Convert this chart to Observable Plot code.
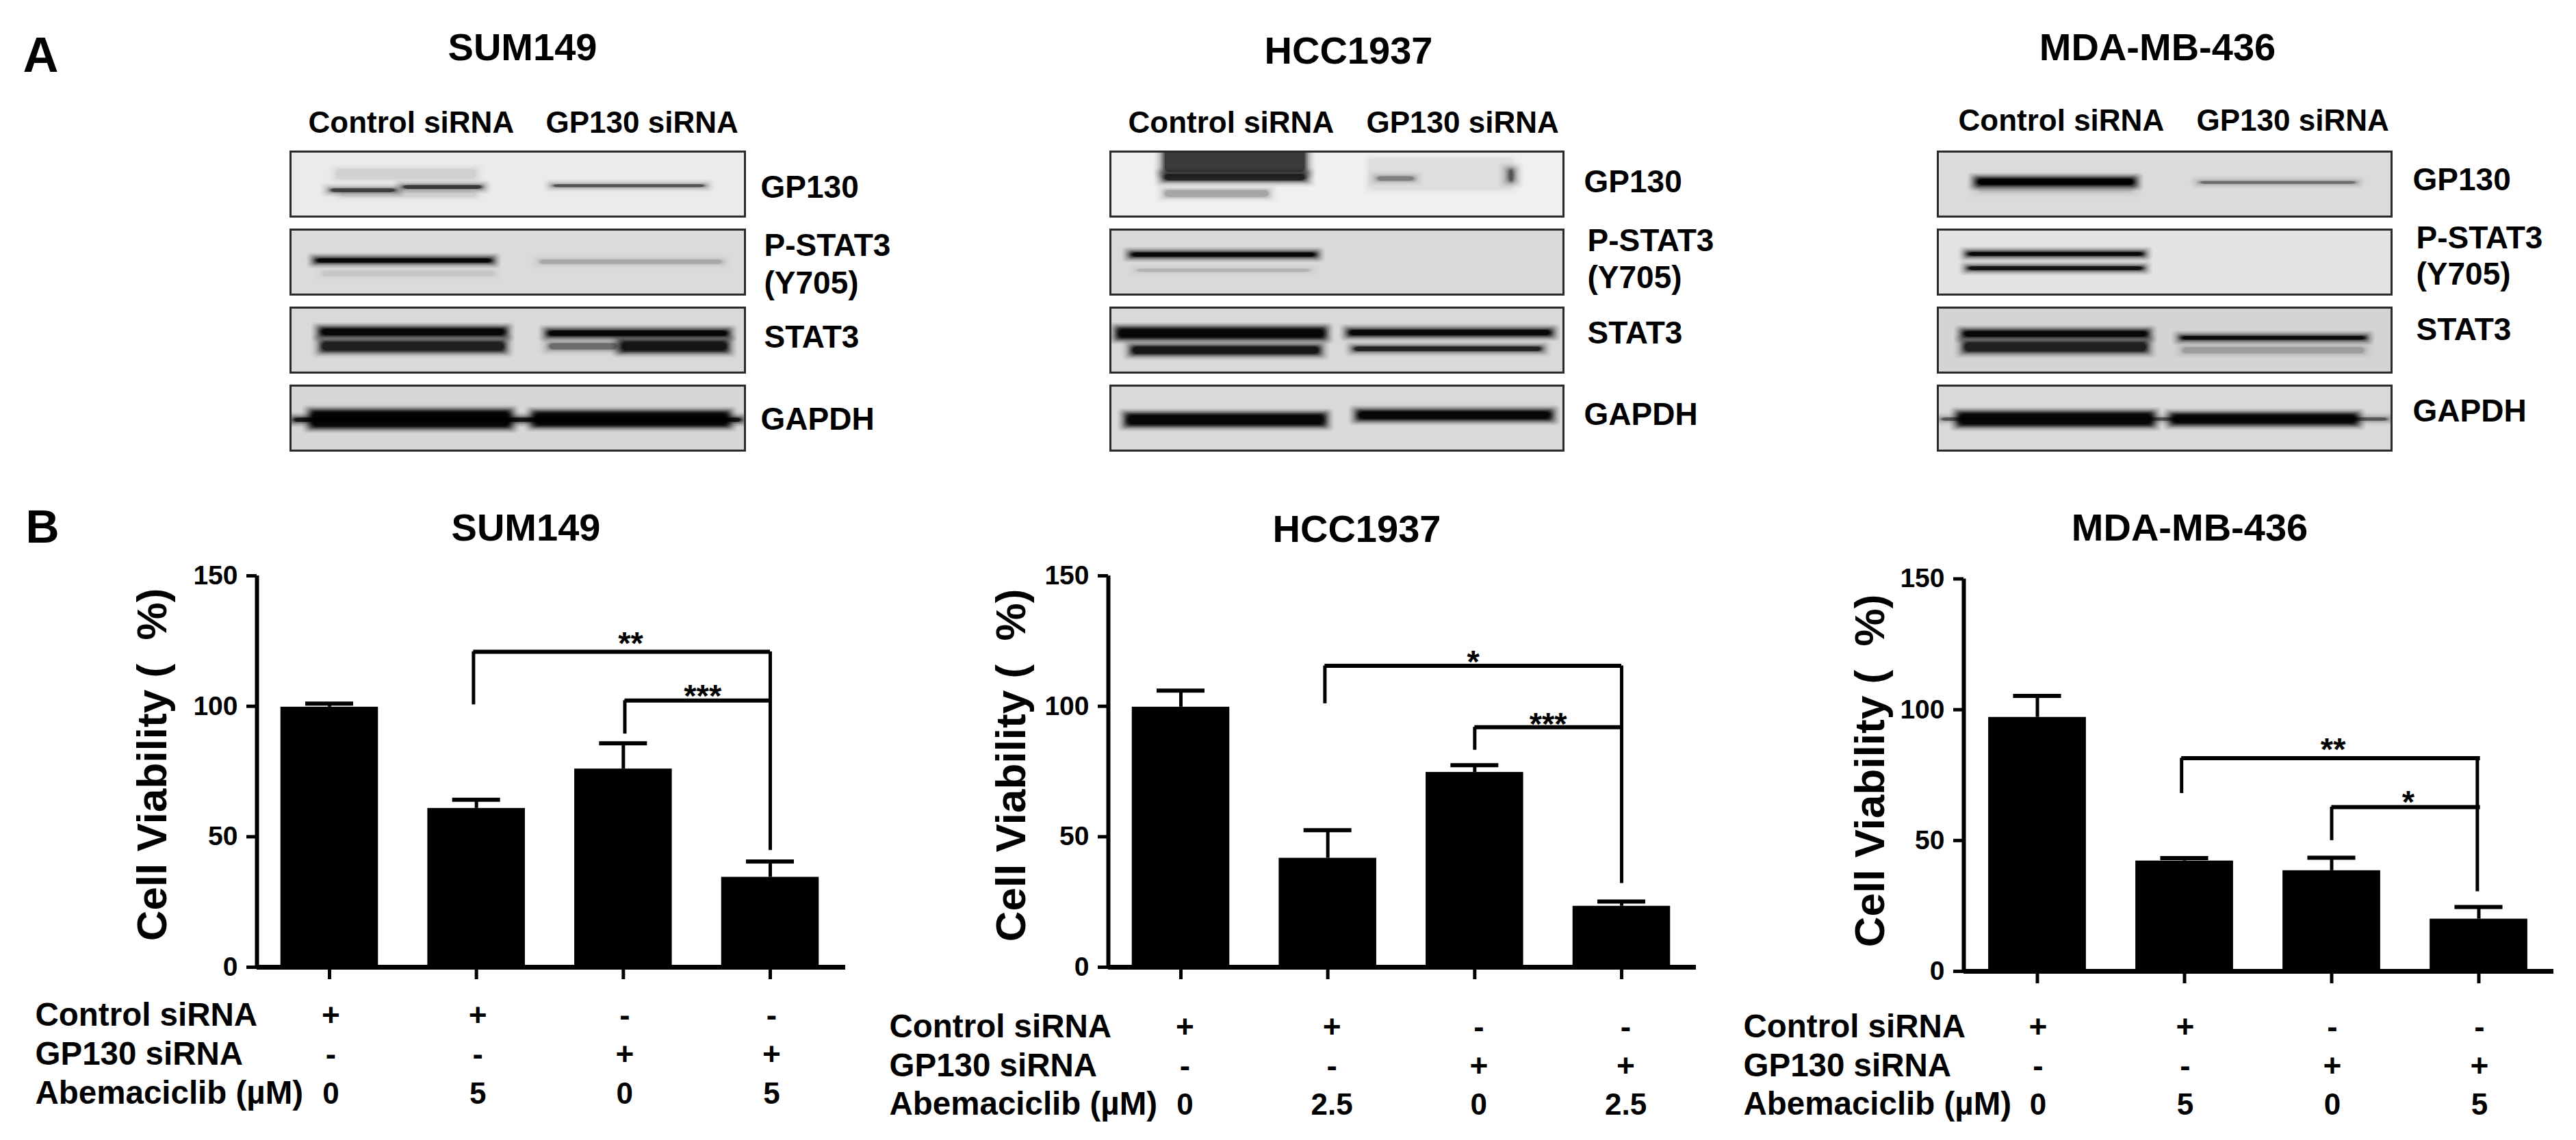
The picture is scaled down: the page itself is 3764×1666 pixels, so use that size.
<!DOCTYPE html>
<html>
<head>
<meta charset="utf-8">
<style>
  html, body { margin: 0; padding: 0; background: #fff; }
  #page { position: relative; width: 3764px; height: 1666px; overflow: hidden; background: #fff; }
  #page svg { position: absolute; overflow: hidden; }
</style>
<script src="https://cdn.jsdelivr.net/npm/d3@7"></script>
<script src="https://cdn.jsdelivr.net/npm/@observablehq/plot@0.6"></script>
</head>
<body>
<div id="page"></div>
<script>
// ---------- Data ----------
const conditions = [0, 1, 2, 3];
const controlSirna = ["+", "+", "-", "-"];
const gp130Sirna = ["-", "-", "+", "+"];

// Panel B: bar height and error-bar top
const sum149Viability = [99.7, 60.9, 76, 34.5];
const sum149ErrorTop = [101, 64.2, 85.8, 40.5];
const sum149Dose = ["0", "5", "0", "5"];
const hcc1937Viability = [99.7, 41.8, 74.7, 23.4];
const hcc1937ErrorTop = [106, 52.5, 77.4, 25.2];
const hcc1937Dose = ["0", "2.5", "0", "2.5"];
const mdaViability = [97.1, 42.2, 38.5, 20];
const mdaErrorTop = [105.3, 43.3, 43.4, 24.6];
const mdaDose = ["0", "5", "0", "5"];

// Significance brackets: stars, left condition, right condition, level, left end, right end, star x, star y
const sum149Brackets = [
  ["**", 0.98, 3.0, 120.9, 100.6, 44.8, 2.05, 127],
  ["***", 2.01, 3.0, 102.2, 89.4, 102.2, 2.54, 106.8]
];
const hcc1937Brackets = [
  ["*", 0.98, 3.0, 115.5, 101, 32.1, 1.99, 120],
  ["***", 2.0, 3.0, 92, 83.2, 92, 2.5, 96]
];
const mdaBrackets = [
  ["**", 0.98, 3.01, 81.5, 68, 30.5, 2.01, 87.8],
  ["*", 2.0, 3.01, 62.8, 50, 62.8, 2.52, 67.6]
];

// Panel A: background density of each blot strip
const sum149Background = [0.08, 0.14, 0.15, 0.16];
const hcc1937Background = [0.06, 0.15, 0.15, 0.15];
const mdaBackground = [0.14, 0.11, 0.17, 0.15];

// Panel A: bands as row, lane start %, lane end %, centre %, thickness %, density
const sum149Bands = [
  [0, 9, 42, 35, 22, 0.1], [0, 8, 24, 60, 7, 0.7], [0, 24, 43, 55, 7, 0.75], [0, 57, 92, 53, 5, 0.65], [0, 10, 42, 66, 14, 0.1],
  [1, 5, 45, 48, 8, 1], [1, 6, 46, 68, 12, 0.08], [1, 54, 96, 50, 9, 0.22],
  [2, 6, 48, 38, 14, 1], [2, 6, 48, 60, 20, 0.85], [2, 56, 97, 40, 11, 1], [2, 72, 97, 60, 20, 0.9], [2, 56, 73, 60, 14, 0.5],
  [3, 0, 100, 53, 8, 0.9], [3, 4, 49, 52, 28, 1], [3, 53, 97, 52, 24, 1]
];
const hcc1937Bands = [
  [0, 11, 44, 12, 46, 0.75], [0, 11, 44, 40, 14, 0.85], [0, 11, 36, 65, 16, 0.3], [0, 56, 90, 35, 55, 0.07],
  [0, 58, 68, 42, 10, 0.42], [0, 87, 90, 37, 24, 0.6],
  [1, 4, 46, 39, 8, 1], [1, 5, 45, 63, 6, 0.16],
  [2, 1, 48, 40, 18, 1], [2, 4, 47, 66, 16, 0.9], [2, 52, 98, 39, 11, 1], [2, 53, 96, 64, 9, 0.85],
  [3, 3, 48, 53, 20, 1], [3, 54, 98, 46, 16, 1]
];
const mdaBands = [
  [0, 8, 44, 47, 13, 1], [0, 8, 44, 55, 22, 0.15], [0, 57, 93, 48, 5, 0.5],
  [1, 6, 46, 38, 7, 1], [1, 6, 46, 60, 7, 0.92],
  [2, 5, 47, 41, 12, 1], [2, 5, 47, 61, 20, 0.85], [2, 53, 95, 47, 7, 0.95], [2, 53, 95, 66, 14, 0.25],
  [3, 0, 100, 52, 6, 0.6], [3, 4, 48, 52, 22, 1], [3, 51, 93, 52, 18, 1]
];

// ---------- Layout and text helpers ----------
const FONT = "Liberation Sans";
const page = document.getElementById("page");
// Feather layers, outermost first: offset from the band edge and how much each layer adds
const FEATHER = [4, 3, 2, 1, 0, -1, -2, -3];
const FEATHER_ALPHA = [0.05, 0.08, 0.12, 0.18, 0.27, 0.4, 0.55, 0.7];
const FEATHER_TOTAL = FEATHER_ALPHA.reduce((s, a) => s * (1 - a), 1);

function place(svg, left, top) {
  svg.style.left = left + "px";
  svg.style.top = top + "px";
  page.appendChild(svg);
}

function pageText(frame, text, x, baseline, fontSize, extra = {}) {
  return Plot.text([text], {
    frameAnchor: "top-left",
    dx: x - frame.left,
    dy: baseline - frame.top,
    lineAnchor: "bottom",
    textAnchor: "start",
    fontFamily: FONT,
    fontWeight: "bold",
    fontSize,
    fill: "#000",
    ...extra
  });
}

// A soft band is a nest of faint rectangles whose opacities add up to the band's density
function softLayers(bands) {
  return bands.flatMap(([row, x1, x2, y, t, density]) => {
    const power = Math.log(Math.max(1 - density, FEATHER_TOTAL)) / Math.log(FEATHER_TOTAL);
    const width = t + 3;
    return FEATHER.map((k, i) => {
      const half = Math.max(width / 2 + k * 1.6, width * 0.28);
      return {row, x1: x1 - k * 0.35, x2: x2 + k * 0.35, y1: y - half, y2: y + half, alpha: 1 - Math.pow(1 - FEATHER_ALPHA[i], power)};
    });
  });
}

function blotPanel(p) {
  const frame = {left: p.blotLeft, top: 221};
  const sup = {facet: "super"};
  const strips = p.background.map((density, row) => ({row, density}));
  const svg = Plot.plot({
    width: p.right - p.left,
    height: 700,
    marginLeft: p.blotLeft - p.left,
    marginRight: p.right - p.blotRight,
    marginTop: 221,
    marginBottom: 700 - 658,
    style: {background: "transparent", color: "#000"},
    x: {domain: [0, 100], axis: null},
    y: {domain: [0, 100], reverse: true, axis: null},
    fy: {domain: [0, 1, 2, 3], axis: null, padding: 0.167, paddingOuter: 0, round: false},
    color: {type: "linear", domain: [0, 1], range: ["#fff", "#000"]},
    opacity: {domain: [0, 1], range: [0, 1]},
    marks: [
      Plot.rect(strips, {x1: 0, x2: 100, y1: 0, y2: 100, fy: "row", fill: "density"}),
      Plot.rect(softLayers(p.bands), {x1: "x1", x2: "x2", y1: "y1", y2: "y2", fy: "row", fill: "#000", opacity: "alpha", rx: 6, clip: "frame"}),
      Plot.frame({stroke: "#2a2a2a", strokeWidth: 3}),
      p.panelLetter ? pageText(frame, p.panelLetter, 33, 104, 72, sup) : null,
      pageText(frame, p.title, p.titleX, 87 + p.titleShift, 56, {textAnchor: "middle", ...sup}),
      pageText(frame, "Control siRNA", p.controlX, p.headerBaseline, 44, sup),
      pageText(frame, "GP130 siRNA", p.gp130X, p.headerBaseline, 44, sup),
      pageText(frame, "GP130", p.labelX, p.baselines[0], 46, sup),
      pageText(frame, "P-STAT3", p.labelX + 5, p.baselines[1], 46, sup),
      pageText(frame, "(Y705)", p.labelX + 5, p.baselines[2], 46, sup),
      pageText(frame, "STAT3", p.labelX + 5, p.baselines[3], 46, sup),
      pageText(frame, "GAPDH", p.labelX, p.baselines[4], 46, sup)
    ]
  });
  place(svg, p.left, 0);
}

function barPanel(p) {
  const top = 720;
  const frame = {left: p.axisX, top: p.yTop};
  const xDomain = [(p.axisX - p.x0) / p.step, (p.axisEnd - p.x0) / p.step];
  const bars = conditions.map((c) => ({c, v: p.viability[c], e: p.errorTop[c]}));
  const half = 0.332;
  const cap = 0.163;
  const brackets = p.brackets.map(([stars, from, to, level, fromEnd, toEnd, sx, sy]) => ({stars, from, to, level, fromEnd, toEnd, sx, sy}));
  const rowText = (values, baseline, fontSize) => Plot.text(conditions, {
    x: (c) => c,
    text: (c) => values[c],
    frameAnchor: "top",
    dx: p.valueShift,
    dy: baseline - p.yTop,
    lineAnchor: "bottom",
    textAnchor: "middle",
    fontFamily: FONT,
    fontWeight: "bold",
    fontSize,
    fill: "#000"
  });
  const svg = Plot.plot({
    width: p.right - p.left,
    height: 946,
    marginLeft: p.axisX - p.left,
    marginRight: p.right - p.axisEnd,
    marginTop: p.yTop - top,
    marginBottom: top + 946 - p.y0,
    style: {background: "transparent", color: "#000"},
    x: {domain: xDomain, axis: null},
    y: {domain: [0, 150], axis: null},
    marks: [
      Plot.rect(bars, {x1: (d) => d.c - half, x2: (d) => d.c + half, y1: 0, y2: "v", fill: "#000"}),
      Plot.ruleX(bars, {x: "c", y1: "v", y2: "e", stroke: "#000", strokeWidth: 5}),
      Plot.ruleY(bars, {y: "e", x1: (d) => d.c - cap, x2: (d) => d.c + cap, stroke: "#000", strokeWidth: 6}),
      Plot.ruleX([xDomain[0]], {y1: 0, y2: 150, stroke: "#000", strokeWidth: 6}),
      Plot.ruleY([0], {stroke: "#000", strokeWidth: 7}),
      Plot.axisY([0, 50, 100, 150], {
        anchor: "left", label: null, tickSize: 15, tickPadding: 13, strokeWidth: 5,
        fontFamily: FONT, fontWeight: "bold", fontSize: 39, fill: "#000", stroke: "#000"
      }),
      Plot.axisX(conditions, {anchor: "bottom", label: null, tickSize: 18, strokeWidth: 5, tickFormat: () => "", stroke: "#000"}),
      Plot.ruleY(brackets, {y: "level", x1: "from", x2: "to", stroke: "#000", strokeWidth: 6}),
      Plot.ruleX(brackets, {x: "from", y1: "level", y2: "fromEnd", stroke: "#000", strokeWidth: 5}),
      Plot.ruleX(brackets, {x: (d) => p.bracketRight, y1: "level", y2: "toEnd", stroke: "#000", strokeWidth: 5}),
      Plot.text(brackets, {x: "sx", y: "sy", text: "stars", dy: 27, lineAnchor: "bottom", textAnchor: "middle", fontFamily: FONT, fontWeight: "bold", fontSize: 47, fill: "#000"}),
      pageText(frame, p.title, p.titleX, p.titleBaseline, 56, {textAnchor: "middle"}),
      p.panelLetter ? pageText(frame, p.panelLetter, 37, 792, 68) : null,
      pageText(frame, "Cell Viability (  %)", p.labelX, p.labelY, 62, {textAnchor: "middle", rotate: -90}),
      pageText(frame, "Control siRNA", p.rowX, p.rows[0], 47.5),
      pageText(frame, "GP130 siRNA", p.rowX, p.rows[1], 47.5),
      pageText(frame, "Abemaciclib (µM)", p.rowX, p.rows[2], 47.5),
      rowText(controlSirna, p.rows[0], 46),
      rowText(gp130Sirna, p.rows[1], 46),
      rowText(p.dose, p.rows[2], 44)
    ]
  });
  place(svg, p.left, top);
}

// ---------- Panel A ----------
blotPanel({left: 0, right: 1500, blotLeft: 424, blotRight: 1088, panelLetter: "A", title: "SUM149", titleX: 763, titleShift: 0,
  background: sum149Background, bands: sum149Bands, controlX: 450, gp130X: 797, headerBaseline: 193,
  labelX: 1111, baselines: [288, 373, 428, 507, 627]});
blotPanel({left: 1500, right: 2700, blotLeft: 1622, blotRight: 2284, title: "HCC1937", titleX: 1970, titleShift: 5,
  background: hcc1937Background, bands: hcc1937Bands, controlX: 1648, gp130X: 1996, headerBaseline: 193,
  labelX: 2314, baselines: [280, 366, 420, 501, 620]});
blotPanel({left: 2700, right: 3764, blotLeft: 2831, blotRight: 3494, title: "MDA-MB-436", titleX: 3152, titleShift: 0,
  background: mdaBackground, bands: mdaBands, controlX: 2861, gp130X: 3209, headerBaseline: 190,
  labelX: 3525, baselines: [277, 362, 415, 496, 615]});

// ---------- Panel B ----------
barPanel({left: 0, right: 1260, axisX: 375, axisEnd: 1235, yTop: 841, y0: 1413, x0: 481, step: 214.67, panelLetter: "B",
  title: "SUM149", titleX: 768, titleBaseline: 789, viability: sum149Viability, errorTop: sum149ErrorTop, brackets: sum149Brackets,
  bracketRight: 3.0, dose: sum149Dose, labelX: 242, labelY: 1117, rowX: 51, rows: [1498, 1555, 1612], valueShift: 2});
barPanel({left: 1260, right: 2510, axisX: 1619, axisEnd: 2478, yTop: 841, y0: 1413, x0: 1725, step: 214.67,
  title: "HCC1937", titleX: 1982, titleBaseline: 791, viability: hcc1937Viability, errorTop: hcc1937ErrorTop, brackets: hcc1937Brackets,
  bracketRight: 3.0, dose: hcc1937Dose, labelX: 1497, labelY: 1118, rowX: 1299, rows: [1515, 1572, 1628], valueShift: 6});
barPanel({left: 2510, right: 3764, axisX: 2869, axisEnd: 3731, yTop: 845.5, y0: 1419, x0: 2976.5, step: 215,
  title: "MDA-MB-436", titleX: 3199, titleBaseline: 789, viability: mdaViability, errorTop: mdaErrorTop, brackets: mdaBrackets,
  bracketRight: 2.99, dose: mdaDose, labelX: 2752, labelY: 1126, rowX: 2547, rows: [1515, 1572, 1628], valueShift: 1});
</script>
</body>
</html>
